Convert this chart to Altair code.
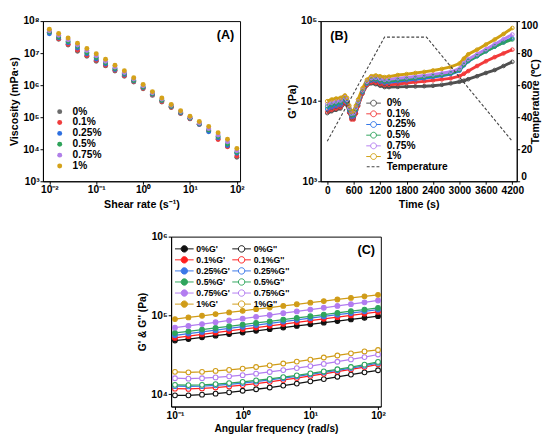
import altair as alt
import pandas as pd

FONT = "'Liberation Sans Narrow', 'Arial Narrow', 'Liberation Sans', sans-serif"
PCT = ["0%", "0.1%", "0.25%", "0.5%", "0.75%", "1%"]

# ---------------- Panel A: viscosity vs shear rate ----------------
shear = [0.01, 0.0158, 0.0251, 0.0398, 0.0631, 0.1, 0.158, 0.251, 0.398, 0.631,
         1, 1.58, 2.51, 3.98, 6.31, 10, 15.8, 25.1, 39.8, 63.1, 100]
visc_0 = [4.5e7, 2.7e7, 1.8e7, 1.15e7, 8.0e6, 5.6e6, 4.0e6, 2.75e6, 1.9e6, 1.25e6,
          7.7e5, 4.8e5, 3.0e5, 2.0e5, 1.3e5, 8.9e4, 5.9e4, 3.8e4, 2.1e4, 1.25e4, 5.6e3]
visc_01 = [4.3e7, 2.8e7, 1.9e7, 1.25e7, 8.5e6, 6.0e6, 4.2e6, 2.9e6, 2.0e6, 1.3e6,
           8.0e5, 5.0e5, 3.1e5, 2.05e5, 1.33e5, 9.0e4, 6.0e4, 3.7e4, 2.0e4, 1.2e4, 6.2e3]
visc_025 = [4.0e7, 3.0e7, 2.1e7, 1.45e7, 9.5e6, 6.6e6, 4.6e6, 3.1e6, 2.15e6, 1.35e6,
            8.4e5, 5.2e5, 3.3e5, 2.15e5, 1.38e5, 9.2e4, 6.0e4, 3.5e4, 2.3e4, 1.3e4, 7.5e3]
visc_05 = [4.6e7, 3.2e7, 2.3e7, 1.6e7, 1.05e7, 7.3e6, 5.0e6, 3.3e6, 2.3e6, 1.4e6,
           8.8e5, 5.4e5, 3.4e5, 2.2e5, 1.42e5, 9.5e4, 6.3e4, 4.0e4, 2.5e4, 1.45e4, 8.0e3]
visc_075 = [5.0e7, 3.6e7, 2.6e7, 1.8e7, 1.2e7, 8.3e6, 5.6e6, 3.7e6, 2.5e6, 1.55e6,
            9.6e5, 5.8e5, 3.7e5, 2.35e5, 1.5e5, 1.0e5, 6.6e4, 4.4e4, 2.8e4, 1.7e4, 9.0e3]
visc_1 = [5.6e7, 4.1e7, 2.95e7, 2.05e7, 1.4e7, 9.6e6, 6.4e6, 4.2e6, 2.8e6, 1.7e6,
          1.05e6, 6.3e5, 4.0e5, 2.5e5, 1.6e5, 1.07e5, 7.3e4, 5.1e4, 3.3e4, 2.05e4, 1.05e4]
visc_all = [visc_0, visc_01, visc_025, visc_05, visc_075, visc_1]

# ---------------- Panel B: G' vs time + temperature ----------------
time_s = [0, 100, 200, 300, 400, 450, 500, 550, 600, 650, 700, 800, 900, 1000, 1100,
          1200, 1300, 1400, 1600, 1800, 2000, 2200, 2400, 2600, 2800, 3000, 3100,
          3200, 3400, 3600, 3800, 4000, 4200]
gB_0 = [7100, 7500, 7800, 8100, 9500, 9000, 7200, 6100, 6100, 7100, 8800, 12500, 15800,
        16700, 16300, 15600, 15000, 15000, 15100, 15200, 15300, 15400, 15600, 16000,
        16700, 17500, 18000, 18800, 20500, 22500, 24500, 27500, 31000]
gB_01 = [7400, 7800, 8100, 8400, 9800, 9200, 7200, 5900, 5900, 7000, 8700, 12500, 16000,
         17200, 17000, 16400, 15900, 16000, 16400, 16900, 17300, 17700, 18200, 18700,
         19300, 20500, 22000, 23800, 27500, 31500, 35500, 39500, 44000]
gB_025 = [8000, 8400, 8700, 9000, 10300, 9600, 7600, 6400, 6500, 7700, 9300, 13000, 16600,
          18200, 18200, 17500, 17000, 17200, 17700, 18200, 18700, 19300, 20000, 20800,
          21800, 24000, 28000, 31500, 36500, 42000, 48000, 54500, 61000]
gB_05 = [8600, 9000, 9300, 9600, 10700, 10000, 7900, 6700, 6800, 8000, 9600, 13300, 17000,
         18800, 18900, 18200, 17600, 17800, 18400, 18900, 19400, 20000, 20600, 21300,
         22300, 24500, 28500, 32000, 36500, 42000, 48000, 54000, 59000]
gB_075 = [9200, 9600, 9900, 10200, 11200, 10400, 8200, 7000, 7100, 8300, 9900, 13700, 17500,
          19400, 19600, 19000, 18500, 18700, 19300, 19800, 20300, 20900, 21600, 22300,
          23300, 25500, 30000, 33500, 38500, 44500, 51500, 59500, 68000]
gB_1 = [10000, 10500, 10800, 11000, 11800, 11000, 8800, 7400, 7600, 8800, 10500, 14500,
        18500, 20500, 21000, 20500, 20000, 20300, 21200, 21800, 22500, 23200, 24200,
        25300, 26800, 29500, 34000, 38500, 44000, 51000, 59000, 69000, 82000]
gB_all = [gB_0, gB_01, gB_025, gB_05, gB_075, gB_1]
temp_time = [0, 1300, 2250, 4200]
temp_val = [25, 90, 90, 25]

# ---------------- Panel C: frequency sweep ----------------
freq = [0.1, 0.158, 0.251, 0.398, 0.631, 1, 1.58, 2.51, 3.98, 6.31, 10, 15.8, 25.1,
        39.8, 63.1, 100]
gp_0 = [48000, 50300, 52800, 55400, 58100, 60900, 63900, 67000, 70300, 73700, 77300,
        81000, 85000, 89100, 93400, 98000]
gp_01 = [52000, 54700, 57500, 60500, 63600, 66900, 70400, 74000, 77900, 81900, 86100,
         90600, 95300, 100200, 105400, 110900]
gp_025 = [56000, 58900, 61900, 65100, 68400, 72000, 75700, 79600, 83700, 88000, 92500,
          97300, 102300, 107500, 113100, 118900]
gp_05 = [60000, 63000, 66200, 69500, 73000, 76600, 80400, 84400, 88600, 93100, 97700,
         102600, 107800, 113200, 118800, 124800]
gp_075 = [70000, 73800, 77800, 82000, 86500, 91200, 96100, 101400, 106900, 112700,
          118800, 125300, 132100, 139300, 146900, 155000]
gp_1 = [90000, 94500, 99200, 104100, 109300, 114700, 120300, 126200, 132300, 138700,
        145400, 152300, 159500, 167000, 174800, 183000]
gpp_0 = [9700, 9700, 9900, 10200, 10600, 11100, 11600, 12200, 12900, 13700, 14600,
         15600, 16700, 17800, 19000, 20200]
gpp_01 = [11800, 11700, 11900, 12200, 12600, 13100, 13700, 14400, 15200, 16100, 17100,
          18200, 19400, 20700, 22200, 24000]
gpp_025 = [12700, 12600, 12700, 13000, 13400, 13900, 14500, 15200, 16000, 16900, 17900,
           19000, 20200, 21500, 23000, 25000]
gpp_05 = [13200, 13100, 13200, 13500, 13900, 14400, 15000, 15700, 16500, 17400, 18400,
          19500, 20800, 22200, 23800, 25800]
gpp_075 = [16000, 15800, 16000, 16400, 16900, 17500, 18300, 19200, 20300, 21500, 22800,
           24300, 25900, 27700, 29700, 32000]
gpp_1 = [19300, 19000, 19300, 19800, 20400, 21200, 22200, 23300, 24600, 26000, 27500,
         29300, 31100, 33100, 35000, 36500]
gp_all = [gp_0, gp_01, gp_025, gp_05, gp_075, gp_1]
gpp_all = [gpp_0, gpp_01, gpp_025, gpp_05, gpp_075, gpp_1]

# ---------------- styles ----------------
colA = ["#6b6b6b", "#f03c3c", "#2d6fe0", "#2ea35a", "#b07fe8", "#d4a21a"]
colB = ["#505050", "#f23a3a", "#2a72e6", "#2ca25a", "#b57ef0", "#cf9f12"]
colC = ["#111111", "#ff1f1f", "#3b78e7", "#2fa55d", "#b27cf0", "#d09c18"]

SUP = "['\u2070','\u00b9','\u00b2','\u00b3','\u2074','\u2075','\u2076','\u2077','\u2078','\u2079']"
EXP = "round(log(datum.value)/LN10)"
POW_EXPR = f"'10' + ({EXP} < 0 ? '\u207b' : '') + {SUP}[abs({EXP})]"

# legend glyphs (symbol size 100 -> 5 px per unit): line with a circle on it
PATH_B = "M-1.1,0L-0.2,0M1.0,0L1.9,0M-0.2,0A0.6,0.6,0,1,1,1.0,0A0.6,0.6,0,1,1,-0.2,0Z"
PATH_C = "M-1.1,0L0.16,0M1.48,0L2.74,0M0.16,0A0.66,0.66,0,1,1,1.48,0A0.66,0.66,0,1,1,0.16,0Z"
PATH_T = "M-1.1,0L1.9,0"

LEG = dict(title=None, labelFont=FONT, labelFontWeight="bold", labelColor="black",
           padding=0)

WA, HA = 203, 165
WB, HB = 202, 165
WC, HC = 216, 175

def tag(label, x, y, align):
    return alt.Chart(pd.DataFrame({"t": [label]})).mark_text(
        font=FONT, fontWeight="bold", fontSize=13, align=align, baseline="middle",
        color="black").encode(x=alt.value(x), y=alt.value(y), text="t:N")

# ---- A ----
dfA = pd.DataFrame([
    {"shear": s, "visc": v, "series": p}
    for p, vals in zip(PCT, visc_all) for s, v in zip(shear, vals)
])
pointsA = alt.Chart(dfA).mark_point(filled=True, size=26, opacity=1).encode(
    x=alt.X("shear:Q", scale=alt.Scale(type="log", domain=[0.0073, 117], nice=False),
            axis=alt.Axis(values=[0.01, 0.1, 1, 10, 100], labelExpr=POW_EXPR,
                          title="Shear rate (s\u207b\u00b9)")),
    y=alt.Y("visc:Q", scale=alt.Scale(type="log", domain=[1e3, 1e8], nice=False),
            axis=alt.Axis(values=[1e3, 1e4, 1e5, 1e6, 1e7, 1e8], labelExpr=POW_EXPR,
                          title="Viscosity (mPa\u00b7s)")),
    color=alt.Color("series:N", scale=alt.Scale(domain=PCT, range=colA),
                    legend=alt.Legend(orient="none", legendX=12, legendY=88,
                                      symbolType="circle", symbolSize=26, labelOffset=8,
                                      labelFontSize=10.5, rowPadding=0.2, **LEG)),
)
chartA = alt.layer(pointsA, tag("(A)", WA - 6, 14, "right")).properties(width=WA, height=HA)

# ---- B ----
dfB = pd.DataFrame([
    {"time": t, "G": g, "series": p}
    for p, vals in zip(PCT, gB_all) for t, g in zip(time_s, vals)
])
xB = alt.X("time:Q", scale=alt.Scale(domain=[-150, 4300], nice=False),
           axis=alt.Axis(values=[0, 600, 1200, 1800, 2400, 3000, 3600, 4200], format="d",
                         title="Time (s)", labelPadding=2))
yB = alt.Y("G:Q", scale=alt.Scale(type="log", domain=[1e3, 1e5], nice=False),
           axis=alt.Axis(values=[1e3, 1e4, 1e5], labelExpr=POW_EXPR, title="G' (Pa)",
                         orient="left"))
scB = alt.Scale(domain=PCT, range=colB)
legB = alt.Legend(orient="none", legendX=47, legendY=79, symbolType=PATH_B,
                  symbolSize=100, symbolStrokeWidth=1, labelOffset=10, labelFontSize=10.5,
                  rowPadding=0, **LEG)
lineB = alt.Chart(dfB).mark_line(strokeWidth=3).encode(
    x=xB, y=yB, color=alt.Color("series:N", scale=scB, legend=legB))
ptsB = alt.Chart(dfB).mark_point(filled=False, size=14, strokeWidth=1, opacity=1).encode(
    x=xB, y=yB, color=alt.Color("series:N", scale=scB, legend=legB))
seriesB = alt.layer(lineB, ptsB, tag("(B)", 10, 15, "left"))
dfT = pd.DataFrame({"time": temp_time, "temp": temp_val, "k": ["Temperature"] * 4})
tempB = alt.Chart(dfT).mark_line(color="#444444", strokeWidth=1.1).encode(
    x=xB,
    y=alt.Y("temp:Q", scale=alt.Scale(domain=[0, 100], nice=False),
            axis=alt.Axis(values=[0, 20, 40, 60, 80, 100], orient="right",
                          title="Temperature (\u2103)", titleAngle=270, labelFlush=True)),
    strokeDash=alt.StrokeDash("k:N", scale=alt.Scale(domain=["Temperature"], range=[[3, 2]]),
                              legend=alt.Legend(orient="none", legendX=47, legendY=144,
                                                symbolType=PATH_T, symbolSize=100,
                                                symbolStrokeColor="#444444",
                                                symbolStrokeWidth=1.2, labelOffset=9,
                                                labelFontSize=10.5, **LEG)),
)
chartB = alt.layer(seriesB, tempB).resolve_scale(y="independent").properties(
    width=WB, height=HB)

# ---- C ----
namesC, strokeC, fillC = [], [], []
for p, c in zip(PCT, colC):
    namesC += [p + "G'", p + "G''"]
    strokeC += [c, c]
    fillC += [c, "white"]
rowsC = []
for p, gp, gpp in zip(PCT, gp_all, gpp_all):
    for f, a, b in zip(freq, gp, gpp):
        rowsC.append({"freq": f, "G": a, "series": p + "G'"})
        rowsC.append({"freq": f, "G": b, "series": p + "G''"})
dfC = pd.DataFrame(rowsC)
xC = alt.X("freq:Q", scale=alt.Scale(type="log", domain=[0.0877, 110], nice=False),
           axis=alt.Axis(values=[0.1, 1, 10, 100], labelExpr=POW_EXPR,
                         title="Angular frequency (rad/s)", titleFontSize=10.5))
yC = alt.Y("G:Q", scale=alt.Scale(type="log", domain=[7000, 1e6], nice=False),
           axis=alt.Axis(values=[1e4, 1e5, 1e6], labelExpr=POW_EXPR, title="G' & G'' (Pa)",
                         titleFontSize=10.5))
stC = alt.Scale(domain=namesC, range=strokeC)
fiC = alt.Scale(domain=namesC, range=fillC)
legC = alt.Legend(orient="none", legendX=4, legendY=7, direction="horizontal", columns=2,
                  columnPadding=0, symbolType=PATH_C, symbolSize=100,
                  symbolStrokeWidth=1, labelOffset=11, labelFontSize=9, rowPadding=0.4,
                  **LEG)
ptsC = alt.Chart(dfC).mark_point(filled=True, size=24, strokeWidth=1.1, opacity=1).encode(
    x=xC, y=yC,
    stroke=alt.Stroke("series:N", scale=stC, legend=legC),
    fill=alt.Fill("series:N", scale=fiC, legend=legC))
lineC = alt.Chart(dfC).mark_line(strokeWidth=1.3).encode(
    x=xC, y=yC, detail="series:N", stroke=alt.Stroke("series:N", scale=stC, legend=legC))
chartC = alt.layer(lineC, ptsC, tag("(C)", WC - 6, 14, "right")).properties(
    width=WC, height=HC)

spacer = alt.Chart(pd.DataFrame({"s": [0]})).mark_point(opacity=0).encode(
    x=alt.X("s:Q", axis=None), y=alt.Y("s:Q", axis=None)
).properties(width=96, height=10, view=alt.ViewBackground(stroke="transparent"))

RS = dict(x="independent", y="independent", color="independent",
          stroke="independent", fill="independent", strokeDash="independent")
RL = dict(color="independent", stroke="independent", fill="independent",
          strokeDash="independent")

top = alt.hconcat(chartA, chartB, spacing=42).resolve_scale(**RS).resolve_legend(**RL)
bottom = alt.hconcat(spacer, chartC, spacing=0).resolve_scale(**RS).resolve_legend(**RL)

chart = alt.vconcat(top, bottom, spacing=21).resolve_scale(**RS).resolve_legend(**RL).properties(
    padding={"left": 0, "top": 1, "right": 0, "bottom": 0}
).configure_view(stroke="black", strokeWidth=1).configure_axis(
    labelFont=FONT, labelFontWeight="bold", labelFontSize=10.5, labelColor="black",
    titleFont=FONT, titleFontWeight="bold", titleFontSize=11, titleColor="black",
    domainColor="black", tickColor="black", grid=False, tickSize=3, labelPadding=1,
    titlePadding=3
)

chart.save("out.html", embed_options={"renderer": "svg", "actions": False})
